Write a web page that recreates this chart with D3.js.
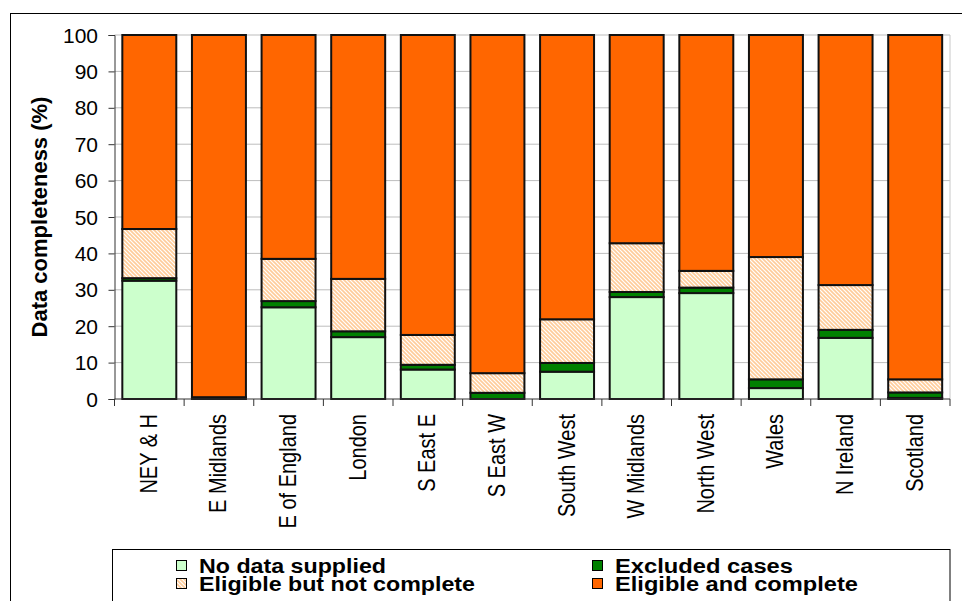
<!DOCTYPE html>
<html><head><meta charset="utf-8">
<script src="https://cdn.jsdelivr.net/npm/d3@7"></script>
<style>html,body{margin:0;padding:0;background:#fff;}svg{display:block;font-family:"Liberation Sans",Arial,sans-serif;}</style>
</head><body>
<svg id="c" width="962" height="601"></svg>
<script>
const categories = ["NEY & H","E Midlands","E of England","London","S East E","S East W","South West","W Midlands","North West","Wales","N Ireland","Scotland"];
const noData      = [32.5, 0.0, 25.2, 17.0, 8.1, 0.0, 7.5, 28.0, 29.1, 3.0, 16.8, 0.3];
const excluded    = [0.7, 0.5, 1.7, 1.6, 1.3, 1.7, 2.4, 1.4, 1.5, 2.4, 2.2, 1.5];
const notComplete = [13.5, 0.0, 11.6, 14.4, 8.2, 5.4, 12.0, 13.4, 4.6, 33.6, 12.3, 3.6];
const complete    = [53.3, 99.5, 61.5, 67.0, 82.4, 92.9, 78.1, 57.2, 64.8, 61.0, 68.7, 94.6];
const yTicks = [0,10,20,30,40,50,60,70,80,90,100];
const seriesNames = ["No data supplied","Excluded cases","Eligible but not complete","Eligible and complete"];
const seriesKeys = ["noData","excluded","notComplete","complete"];

const rows = categories.map((c,i)=>({cat:c, noData:noData[i], excluded:excluded[i], notComplete:notComplete[i], complete:complete[i]}));

const svg = d3.select("#c");
const L = 114.5, R = 950, T = 35, B = 399;

const defs = svg.append("defs");
const pat = defs.append("pattern").attr("id","hatch").attr("patternUnits","userSpaceOnUse").attr("width",4).attr("height",4);
pat.append("rect").attr("width",4).attr("height",4).attr("fill","#fff");
pat.append("path").attr("d","M-1,-1 L5,5 M-1,3 L1,5 M3,-1 L5,1").attr("stroke","#FFCC99").attr("stroke-width",1.6);

const fills = {noData:"#CCFFCC", excluded:"#008000", notComplete:"url(#hatch)", complete:"#FF6600"};

// outer frame
svg.append("rect").attr("x",10.5).attr("y",13.5).attr("width",1000).attr("height",700).attr("fill","none").attr("stroke","#000").attr("stroke-width",1);

const x = d3.scaleBand().domain(categories).range([L,R]).padding(0);
const y = d3.scaleLinear().domain([0,100]).range([B,T]);

// gridlines
svg.append("g").selectAll("line").data(yTicks.filter(d=>d>0)).join("line")
  .attr("x1",L).attr("x2",R).attr("y1",d=>y(d)).attr("y2",d=>y(d))
  .attr("stroke","#BDBDBD").attr("stroke-width",1);
svg.append("line").attr("x1",R).attr("x2",R).attr("y1",T).attr("y2",B).attr("stroke","#C8C8C8");

// bars
const stack = d3.stack().keys(seriesKeys)(rows);
const bw = x.bandwidth()/1.29;
svg.append("g").selectAll("g").data(stack).join("g")
  .attr("fill",d=>fills[d.key])
  .selectAll("rect").data(d=>d).join("rect")
  .attr("x",d=>x(d.data.cat)+(x.bandwidth()-bw)/2)
  .attr("width",bw)
  .attr("y",d=>y(d[1]))
  .attr("height",d=>y(d[0])-y(d[1]))
  .attr("stroke","#111").attr("stroke-width",2);

// y axis
const ya = svg.append("g").attr("transform",`translate(${L},0)`)
  .call(d3.axisLeft(y).tickValues(yTicks).tickSize(6).tickPadding(0).tickFormat(d3.format("d")));
ya.select(".domain").attr("stroke","#333");
ya.selectAll(".tick line").attr("stroke","#333");
ya.selectAll(".tick text").attr("x",null).attr("dy",null).attr("text-anchor","end")
  .attr("font-size",20).attr("fill","#000")
  .attr("transform",`translate(${98-L},7) scale(1.05,1)`);

// x axis
const xa = svg.append("g").attr("transform",`translate(0,${B})`);
xa.append("line").attr("x1",L).attr("x2",R).attr("y1",0).attr("y2",0).attr("stroke","#333");
xa.selectAll("line.t").data(d3.range(categories.length+1)).join("line").attr("class","t")
  .attr("x1",i=>L+i*x.step()).attr("x2",i=>L+i*x.step()).attr("y1",0).attr("y2",7).attr("stroke","#333");
xa.selectAll("text").data(categories).join("text")
  .attr("transform",d=>`translate(${x(d)+x.bandwidth()/2+7.5},15) scale(1.2,1) rotate(-90)`)
  .attr("text-anchor","end").attr("font-size",20).attr("fill","#000").text(d=>d);

// y title
svg.append("text").attr("transform",`translate(47,${(T+B)/2}) rotate(-90)`)
  .attr("text-anchor","middle").attr("font-size",22).attr("font-weight","bold").text("Data completeness (%)");

// legend
svg.append("rect").attr("x",112.5).attr("y",549.5).attr("width",837.5).attr("height",60).attr("fill","#fff").attr("stroke","#000");
const legPos = [[176,573],[592,573],[176,591],[592,591]];
const legIdx = [0,1,2,3];
const legLen = [187,178,276,243];
const lg = svg.append("g").selectAll("g").data(legIdx).join("g")
  .attr("transform",i=>`translate(${legPos[i][0]},${legPos[i][1]})`);
lg.append("rect").attr("x",0.5).attr("y",-12.5).attr("width",10).attr("height",10)
  .attr("fill",i=>fills[seriesKeys[i]]).attr("stroke","#000").attr("stroke-width",1);
lg.append("text").attr("x",23).attr("y",0).attr("font-size",20).attr("font-weight","bold")
  .attr("textLength",i=>legLen[i]).attr("lengthAdjust","spacingAndGlyphs").text(i=>seriesNames[i]);
</script>
</body></html>
